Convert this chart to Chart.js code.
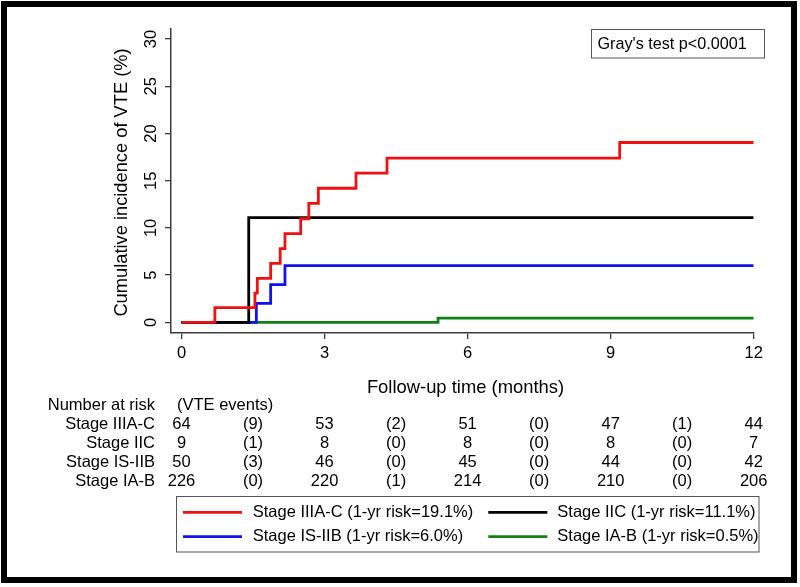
<!DOCTYPE html>
<html>
<head>
<meta charset="utf-8">
<script src="https://cdn.jsdelivr.net/npm/chart.js@4"></script>
<style>
html, body { margin: 0; padding: 0; background: #fff; }
canvas { display: block; }
</style>
</head>
<body>
<canvas id="vteChart" width="800" height="587"></canvas>
<script>
// groups and their 1-year cumulative incidence
const stages = ['Stage IIIA-C', 'Stage IIC', 'Stage IS-IIB', 'Stage IA-B'];
const oneYearRisk = ['19.1%', '11.1%', '6.0%', '0.5%'];
const colors = ['#f01010', '#000000', '#1010f0', '#108010'];

// step curves: time (months) where the incidence jumps, and the value after the jump
const timeIIIAC = [0, 0.70, 1.54, 1.59, 1.87, 2.07, 2.17, 2.50, 2.67, 2.87, 3.66, 4.31, 9.19, 12];
const cumIIIAC  = [0, 1.55, 3.10, 4.66, 6.25, 7.80, 9.40, 10.97, 12.6, 14.2, 15.8, 17.4, 19.05, 19.05];
const timeIIC = [0, 1.41, 12];
const cumIIC  = [0, 11.1, 11.1];
const timeISIIB = [0, 1.57, 1.87, 2.17, 12];
const cumISIIB  = [0, 2.0, 4.0, 6.0, 6.0];
const timeIAB = [0, 5.38, 12];
const cumIAB  = [0, 0.45, 0.45];

const xTicks = [0, 3, 6, 9, 12];
const yTicks = [0, 5, 10, 15, 20, 25, 30];

// number at risk table
const riskTimes = [0, 3, 6, 9, 12];
const eventTimes = [1.5, 4.5, 7.5, 10.5];
const atRiskIIIAC = [64, 53, 51, 47, 44];
const atRiskIIC = [9, 8, 8, 8, 7];
const atRiskISIIB = [50, 46, 45, 44, 42];
const atRiskIAB = [226, 220, 214, 210, 206];
const eventsIIIAC = [9, 2, 0, 1];
const eventsIIC = [1, 0, 0, 0];
const eventsISIIB = [3, 0, 0, 0];
const eventsIAB = [0, 1, 0, 0];

const FONT = '"Liberation Sans", Arial, sans-serif';
const AXIS = '#3c3c3c';

const toPoints = (ts, vs) => ts.map((t, i) => ({ x: t, y: vs[i] }));
const curves = [[timeIIIAC, cumIIIAC], [timeIIC, cumIIC], [timeISIIB, cumISIIB], [timeIAB, cumIAB]];
const atRisk = [atRiskIIIAC, atRiskIIC, atRiskISIIB, atRiskIAB];
const events = [eventsIIIAC, eventsIIC, eventsISIIB, eventsIAB];

function label(ctx, str, x, y, size, align, rotate) {
    ctx.save();
    ctx.font = size + 'px ' + FONT;
    ctx.textAlign = align || 'center';
    ctx.textBaseline = 'middle';
    ctx.translate(x, y);
    if (rotate) ctx.rotate(-Math.PI / 2);
    ctx.fillText(String(str), 0, 0);
    ctx.restore();
}

const decor = {
    id: 'decor',
    afterDraw(chart) {
        const ctx = chart.ctx;
        const xs = chart.scales.x, ys = chart.scales.y;
        ctx.save();
        ctx.fillStyle = '#000';

        // tick labels
        xTicks.forEach(v => label(ctx, v, xs.getPixelForValue(v), 353, 16.5));
        yTicks.forEach(v => label(ctx, v, 151, ys.getPixelForValue(v), 16.5, 'center', true));

        // axis titles
        label(ctx, 'Follow-up time (months)', 465.5, 388, 18.4);
        label(ctx, 'Cumulative incidence of VTE (%)', 122, 182.5, 18.3, 'center', true);

        // Gray's test box
        ctx.strokeStyle = '#555';
        ctx.lineWidth = 1;
        ctx.strokeRect(591.5, 29.5, 173, 28.5);
        label(ctx, "Gray's test p<0.0001", 597.5, 44.3, 16.2, 'left');

        // number at risk table
        label(ctx, 'Number at risk', 155, 405.5, 16.5, 'right');
        label(ctx, '(VTE events)', 177, 405.5, 16.5, 'left');
        stages.forEach((s, r) => {
            const y = 424.6 + r * 19;
            label(ctx, s, 155, y, 16.5, 'right');
            riskTimes.forEach((t, i) => label(ctx, atRisk[r][i], xs.getPixelForValue(t), y, 16.5));
            eventTimes.forEach((t, i) => label(ctx, '(' + events[r][i] + ')', xs.getPixelForValue(t), y, 16.5));
        });

        // legend
        ctx.strokeStyle = '#555';
        ctx.lineWidth = 1;
        ctx.strokeRect(176.5, 496.5, 582.5, 55.5);
        const lineX = [183, 488.3], textX = [252.7, 557.3], rowY = [512.3, 536.7];
        stages.forEach((s, i) => {
            const c = i % 2, r = Math.floor(i / 2);
            ctx.strokeStyle = colors[i];
            ctx.lineWidth = 2.8;
            ctx.beginPath();
            ctx.moveTo(lineX[c], rowY[r]);
            ctx.lineTo(lineX[c] + 59, rowY[r]);
            ctx.stroke();
            label(ctx, s + ' (1-yr risk=' + oneYearRisk[i] + ')', textX[c], rowY[r], 16.5, 'left');
        });

        // outer frame
        ctx.strokeStyle = '#000';
        ctx.lineWidth = 6;
        ctx.strokeRect(4, 4, 790, 576);
        ctx.restore();
    }
};

new Chart(document.getElementById('vteChart'), {
    type: 'line',
    data: {
        datasets: curves.map(([ts, vs], i) => ({
            label: stages[i],
            data: toPoints(ts, vs),
            borderColor: colors[i],
            borderWidth: 2.8,
            stepped: true,
            pointRadius: 0,
            fill: false
        }))
    },
    options: {
        responsive: false,
        animation: false,
        devicePixelRatio: 1,
        layout: { autoPadding: false, padding: { left: 0, top: 29, right: 46.3, bottom: 0 } },
        plugins: { legend: { display: false }, tooltip: { enabled: false } },
        scales: {
            x: {
                type: 'linear',
                min: -0.22,
                max: 12,
                afterBuildTicks: s => { s.ticks = xTicks.map(v => ({ value: v })); },
                afterFit: s => { s.height = 587 - 333; },
                ticks: { display: false },
                grid: { drawOnChartArea: false, drawTicks: true, tickLength: 6, color: AXIS, lineWidth: 1.3 },
                border: { display: true, color: AXIS, width: 1.5 }
            },
            y: {
                type: 'linear',
                min: -1.13,
                max: 31.07,
                afterBuildTicks: s => { s.ticks = yTicks.map(v => ({ value: v })); },
                afterFit: s => { s.width = 171; },
                ticks: { display: false },
                grid: { drawOnChartArea: false, drawTicks: true, tickLength: 6, color: AXIS, lineWidth: 1.3 },
                border: { display: true, color: AXIS, width: 1.5 }
            }
        }
    },
    plugins: [decor]
});
</script>
</body>
</html>
